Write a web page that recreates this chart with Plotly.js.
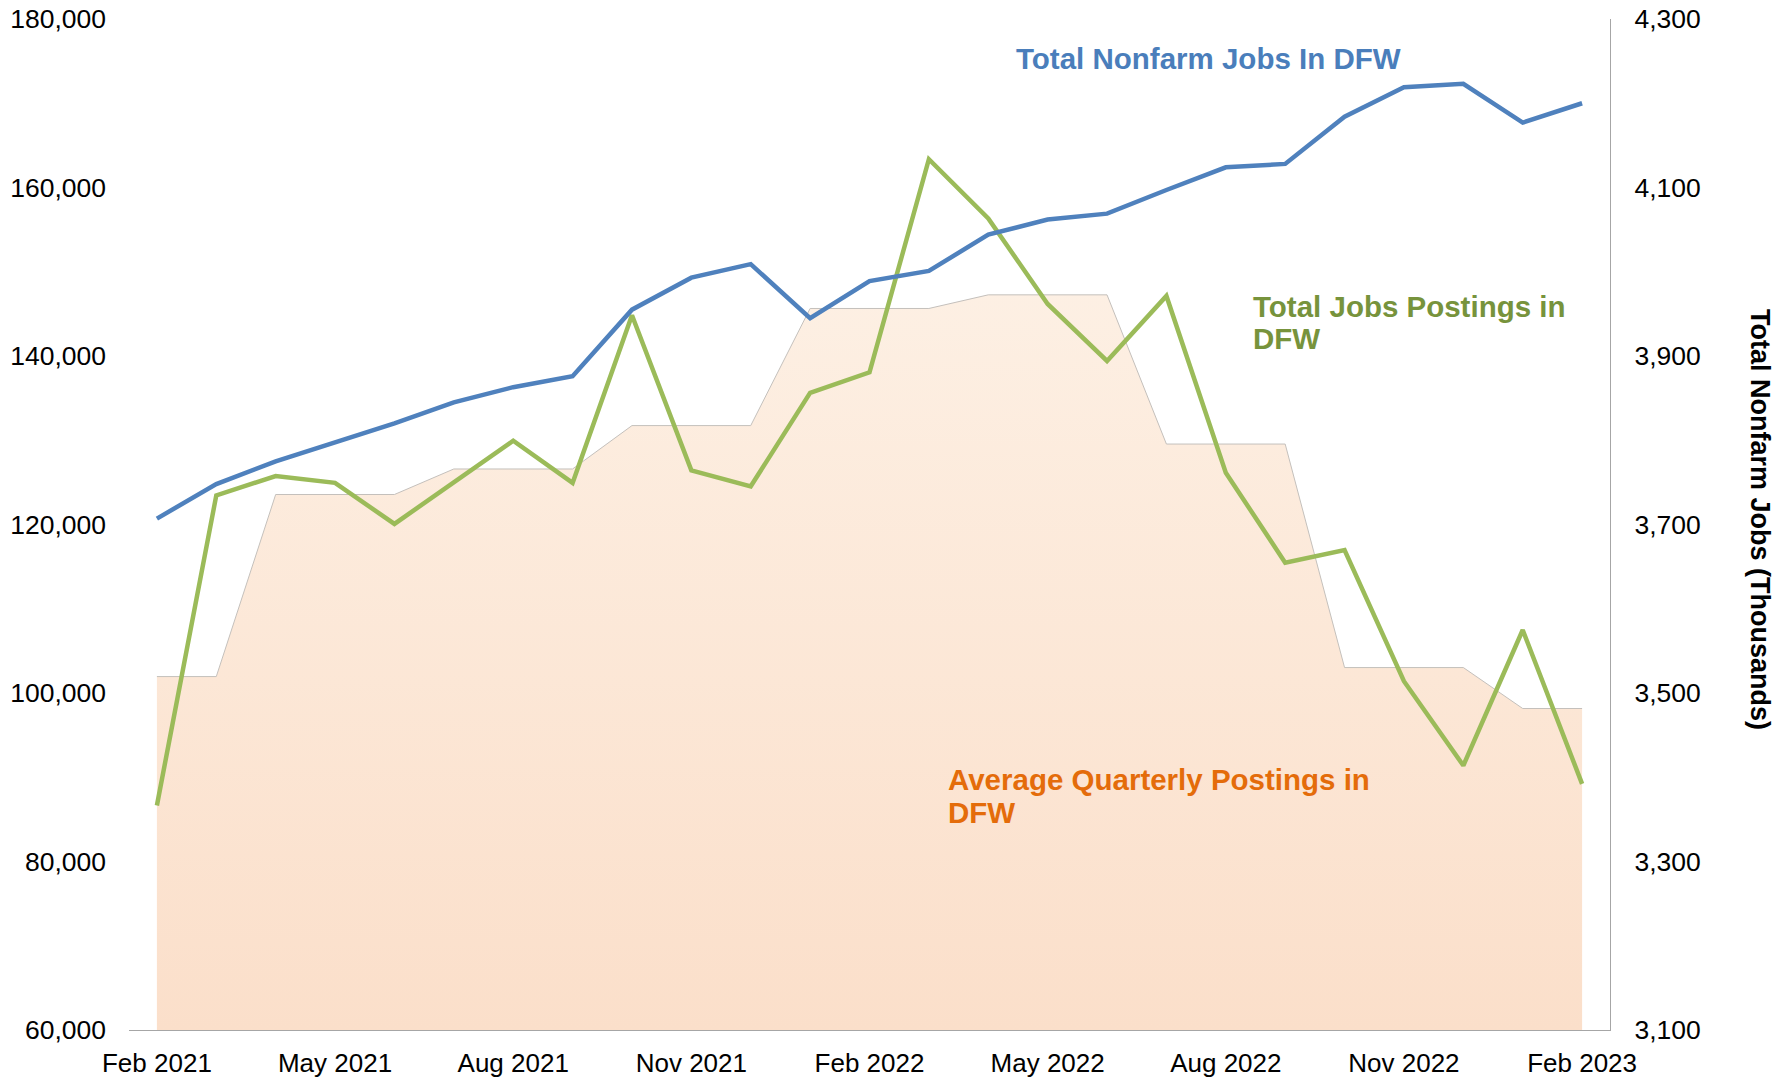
<!DOCTYPE html>
<html>
<head>
<meta charset="utf-8">
<script src="https://cdn.plot.ly/plotly-3.0.1.min.js"></script>
<style>html,body{margin:0;padding:0;background:#fff;}#chart{width:1787px;height:1079px;}</style>
</head>
<body>
<div id="chart"></div>
<script>
// Months (x categories)
const months = ["Feb 2021","Mar 2021","Apr 2021","May 2021","Jun 2021","Jul 2021","Aug 2021","Sep 2021",
  "Oct 2021","Nov 2021","Dec 2021","Jan 2022","Feb 2022","Mar 2022","Apr 2022","May 2022","Jun 2022",
  "Jul 2022","Aug 2022","Sep 2022","Oct 2022","Nov 2022","Dec 2022","Jan 2023","Feb 2023"];

// Total job postings in DFW (left axis)
const postings = [86650,123450,125750,124940,120070,125070,129940,124940,
  144830,126430,124530,135630,138060,163360,156320,146180,139410,
  147130,126150,115470,116960,101400,91390,107480,89220];

// Average quarterly postings in DFW (left axis, shaded area)
const avgQuarterly = [101950,101950,123560,123560,123560,126590,126590,126590,
  131740,131740,131740,145640,145640,145640,147260,147260,147260,
  129550,129550,129550,103020,103020,103020,98160,98160];

// Total nonfarm jobs in DFW, thousands (right axis)
const nonfarm = [3707,3748,3775,3797,3820,3845,3863,3876,
  3955,3993,4009,3945,3989,4001,4044,4062,4069,
  4097,4124,4128,4184,4219,4223,4177,4200];

const xTicks = ["Feb 2021","May 2021","Aug 2021","Nov 2021","Feb 2022","May 2022","Aug 2022","Nov 2022","Feb 2023"];
const leftTicks = [60000,80000,100000,120000,140000,160000,180000];
const rightTicks = [3100,3300,3500,3700,3900,4100,4300];

const FONT = "Liberation Sans, Arial, sans-serif";

const traces = [
  {
    x: months, y: avgQuarterly, type: "scatter", mode: "lines",
    name: "Average Quarterly Postings in DFW",
    line: {color: "#c4c0bc", width: 1},
    fill: "tozeroy",
    fillcolor: "#fce6d5",
    fillgradient: {type: "vertical", start: 60000, stop: 150000,
      colorscale: [[0, "#fbdfca"], [1, "#fdf0e4"]]},
    yaxis: "y", hoverinfo: "x+y"
  },
  {
    x: months, y: postings, type: "scatter", mode: "lines",
    name: "Total Jobs Postings in DFW",
    line: {color: "#9bbb59", width: 4.5},
    yaxis: "y"
  },
  {
    x: months, y: nonfarm, type: "scatter", mode: "lines",
    name: "Total Nonfarm Jobs In DFW",
    line: {color: "#4f81bd", width: 4.5},
    yaxis: "y2"
  }
];

function lbl(text, x, y, color) {
  return {text: "<b>" + text + "</b>", xref: "paper", yref: "paper", x: x, y: y,
    xanchor: "left", yanchor: "middle", showarrow: false, align: "left",
    font: {family: FONT, size: 29.5, color: color}};
}

const layout = {
  width: 1787, height: 1079,
  margin: {l: 129, r: 177, t: 19, b: 49},
  paper_bgcolor: "#ffffff", plot_bgcolor: "rgba(0,0,0,0)",
  showlegend: false,
  font: {family: FONT, size: 26, color: "#000000"},
  xaxis: {
    type: "category",
    range: [-0.47, 24.47],
    tickmode: "array", tickvals: xTicks, ticktext: xTicks,
    showgrid: false, zeroline: false,
    showline: true, linecolor: "#a6a6a6", linewidth: 1.2,
    ticks: "", ticklabelstandoff: 10,
    tickfont: {family: FONT, size: 26, color: "#000"}
  },
  yaxis: {
    range: [60000, 180000],
    tickmode: "array", tickvals: leftTicks, tickformat: ",d",
    showgrid: false, zeroline: false, showline: false,
    ticks: "", ticklabelstandoff: 22,
    tickfont: {family: FONT, size: 26.5, color: "#000"}
  },
  yaxis2: {
    overlaying: "y", side: "right",
    range: [3100, 4300],
    tickmode: "array", tickvals: rightTicks, tickformat: ",d",
    showgrid: false, zeroline: false,
    showline: true, linecolor: "#a6a6a6", linewidth: 1.2,
    ticks: "", ticklabelstandoff: 18,
    tickfont: {family: FONT, size: 26.5, color: "#000"}
  },
  annotations: [
    lbl("Total Nonfarm Jobs In DFW", 0.5976, 0.9609, "#4a7ebb"),
    lbl("Total Jobs Postings in", 0.7573, 0.7156, "#77933c"),
    lbl("DFW", 0.7573, 0.6835, "#77933c"),
    lbl("Average Quarterly Postings in", 0.5519, 0.2480, "#e46c0a"),
    lbl("DFW", 0.5519, 0.2156, "#e46c0a"),
    {text: "<b>Total Nonfarm Jobs (Thousands)</b>", xref: "paper", yref: "paper",
     x: 1.1013, y: 0.5054, xanchor: "center", yanchor: "middle", showarrow: false,
     textangle: 90, font: {family: FONT, size: 27, color: "#000"}}
  ]
};

Plotly.newPlot("chart", traces, layout, {displayModeBar: false, staticPlot: true});
</script>
</body>
</html>
